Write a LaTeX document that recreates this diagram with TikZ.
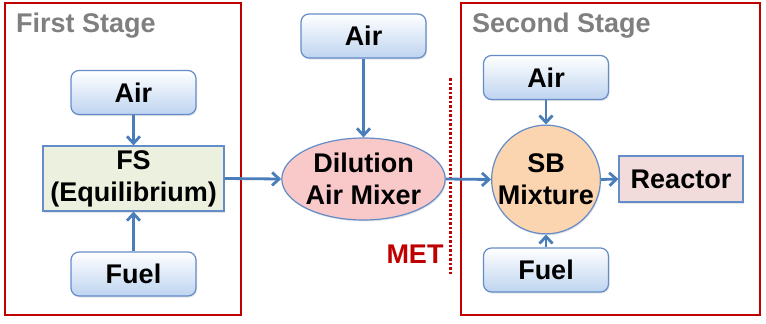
\documentclass[tikz,border=0pt]{standalone}
\usepackage{fontspec}
\setmainfont{Liberation Sans}
\usetikzlibrary{shapes.geometric,arrows.meta,shadows}
\definecolor{arrowblue}{RGB}{74,126,187}
\definecolor{boxborder}{RGB}{100,140,200}
\definecolor{lightblue}{RGB}{190,212,240}
\definecolor{fsfill}{RGB}{235,241,222}
\definecolor{mixfill}{RGB}{249,200,200}
\definecolor{sbfill}{RGB}{251,212,176}
\definecolor{reacfill}{RGB}{242,220,219}
\definecolor{stagered}{RGB}{192,0,0}
\definecolor{titlegray}{RGB}{127,127,127}
\tikzset{
  lbl/.style={font=\bfseries\fontsize{27}{32}\selectfont, align=center, inner sep=0pt},
  inbox/.style={lbl, draw=boxborder, line width=1.2pt, rounded corners=8pt,
    top color=white, bottom color=lightblue, minimum width=125pt, minimum height=44pt,
    drop shadow={opacity=0.2, shadow xshift=1pt, shadow yshift=-1.5pt}},
  fsbox/.style={lbl, draw=boxborder, line width=1.2pt, fill=fsfill, minimum width=181pt, minimum height=65pt,
    drop shadow={opacity=0.2, shadow xshift=1pt, shadow yshift=-1.5pt}},
  mixnode/.style={lbl, ellipse, draw=boxborder, line width=1.2pt, fill=mixfill, minimum width=153pt, minimum height=82pt,
    drop shadow={opacity=0.2, shadow xshift=1pt, shadow yshift=-1.5pt}},
  sbnode/.style={lbl, circle, draw=boxborder, line width=1.2pt, fill=sbfill, minimum size=101pt,
    drop shadow={opacity=0.2, shadow xshift=1pt, shadow yshift=-1.5pt}},
  reacbox/.style={lbl, draw=boxborder, line width=1.2pt, fill=reacfill, minimum width=124pt, minimum height=46pt,
    drop shadow={opacity=0.2, shadow xshift=1pt, shadow yshift=-1.5pt}},
  stagebox/.style={draw=stagered, line width=1.3pt},
  stagetitle/.style={font=\bfseries\fontsize{27}{32}\selectfont, text=titlegray, inner sep=0pt, anchor=west},
  flow/.style={draw=arrowblue, line width=2.8pt, -{Straight Barb[length=7pt,width=13pt,line width=2.8pt]}},
  metline/.style={draw=stagered, line width=3pt, dash pattern=on 2.5pt off 2pt}
}
\begin{document}
\begin{tikzpicture}[x=1pt,y=-1pt]
\useasboundingbox (0,0) rectangle (766,324);
\fill[white] (0,0) rectangle (766,324);
% stage frames
\draw[stagebox] (5,3) rectangle (241,315);
\draw[stagebox] (461,3) rectangle (760,315);
\node[stagetitle] (t1) at (16,26) {First Stage};
\node[stagetitle] (t2) at (472,26) {Second Stage};
% first stage
\node[inbox] (air1) at (133.5,92.5) {Air};
\node[fsbox] (fs) at (133.5,178.5) {FS\\(Equilibrium)};
\node[inbox] (fuel1) at (133.5,274) {Fuel};
% middle
\node[inbox] (air2) at (363.5,36) {Air};
\node[mixnode] (mix) at (363.5,179) {Dilution\\Air Mixer};
% MET
\coordinate (m1) at (450,78);
\coordinate (m2) at (450,275);
\draw[metline] (m1) -- (m2);
\node[lbl, text=stagered] (met) at (415,254) {MET};
% second stage
\node[inbox] (air3) at (546,77.5) {Air};
\node[sbnode] (sb) at (546,179.5) {SB\\Mixture};
\node[reacbox] (reac) at (681,179) {Reactor};
\node[inbox] (fuel3) at (546,270) {Fuel};
% arrows
\draw[flow] (air1) -- (fs);
\draw[flow] (fuel1) -- (fs);
\draw[flow] (fs.east) -- (mix.west);
\draw[flow] (air2) -- (mix);
\draw[flow] (mix.east) -- (sb.west);
\draw[flow] (air3) -- (sb);
\draw[flow] (fuel3) -- (sb);
\draw[flow] (sb.east) -- (reac.west);
\end{tikzpicture}
\end{document}
